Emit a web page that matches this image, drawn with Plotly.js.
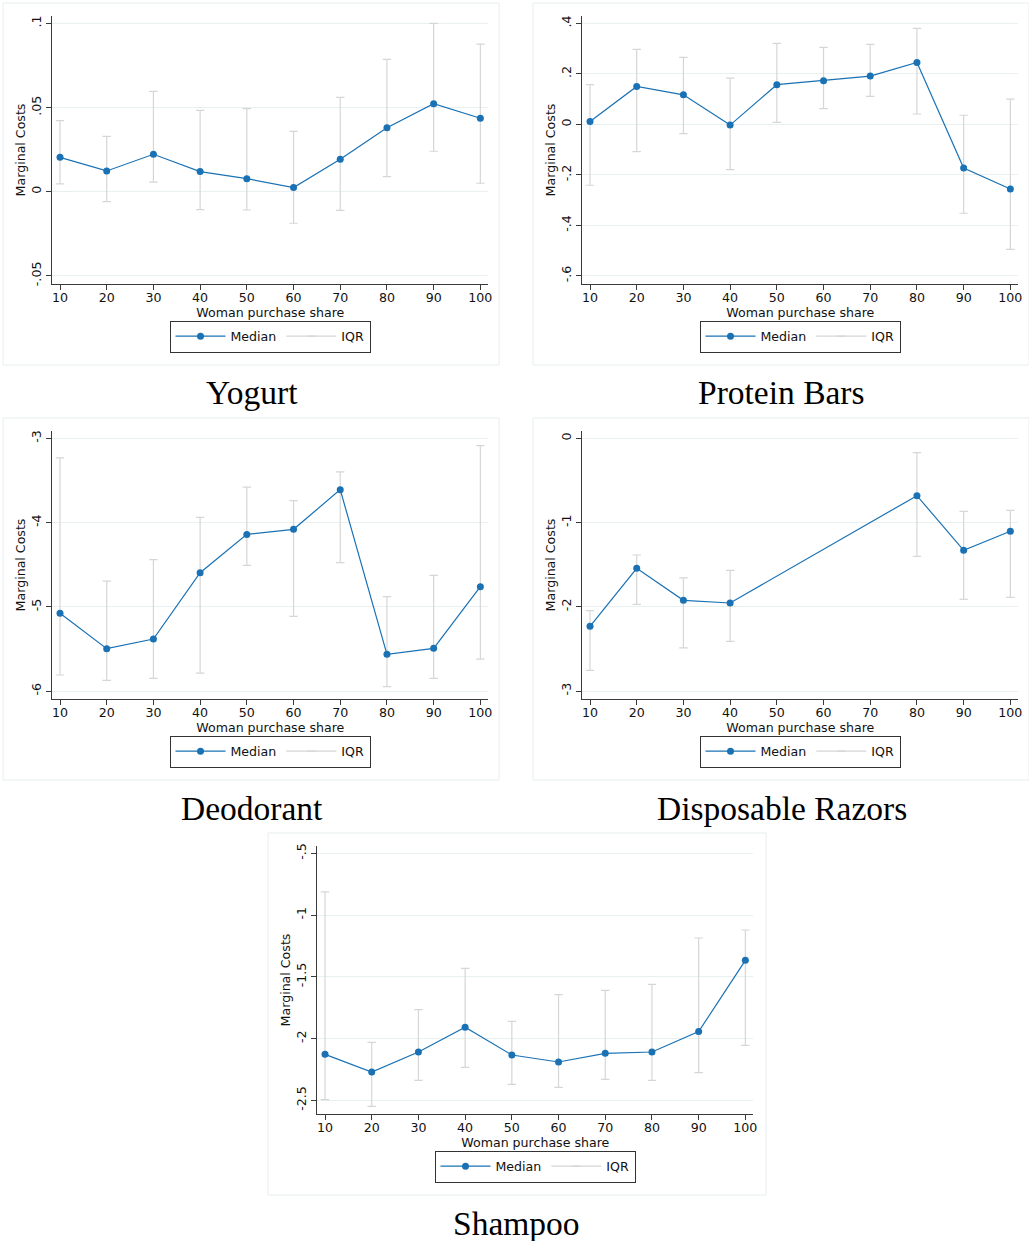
<!DOCTYPE html>
<html>
<head>
<meta charset="utf-8">
<script src="https://cdn.plot.ly/plotly-3.0.1.min.js"></script>
<style>
  html, body { margin: 0; padding: 0; background: #ffffff; }
  #chart { width: 1029px; height: 1241px; }
</style>
</head>
<body>
<div id="chart"></div>
<script>
// ---------- DATA ----------
const shareX = [10, 20, 30, 40, 50, 60, 70, 80, 90, 100];
const razorX = [10, 20, 30, 40, 80, 90, 100];

const yogurtMedian = [0.0204, 0.0123, 0.0222, 0.0119, 0.0077, 0.0024, 0.0192, 0.0380, 0.0523, 0.0436];
const yogurtQ25    = [0.0046, -0.0059, 0.0057, -0.0107, -0.0109, -0.0188, -0.0111, 0.0089, 0.0240, 0.0050];
const yogurtQ75    = [0.0422, 0.0329, 0.0596, 0.0483, 0.0493, 0.0358, 0.0560, 0.0786, 0.1000, 0.0877];

const proteinMedian = [0.011, 0.150, 0.117, -0.003, 0.157, 0.173, 0.191, 0.245, -0.173, -0.256];
const proteinQ25    = [-0.241, -0.108, -0.037, -0.179, 0.008, 0.062, 0.111, 0.041, -0.352, -0.495];
const proteinQ75    = [0.157, 0.297, 0.265, 0.183, 0.321, 0.305, 0.317, 0.380, 0.036, 0.100];

const deodorantMedian = [-5.076, -5.496, -5.381, -4.594, -4.139, -4.079, -3.608, -5.563, -5.492, -4.760];
const deodorantQ25    = [-5.808, -5.872, -5.848, -5.785, -4.507, -5.112, -4.475, -5.947, -5.848, -5.619];
const deodorantQ75    = [-3.232, -4.693, -4.439, -3.937, -3.577, -3.739, -3.398, -4.879, -4.625, -3.086];

const razorMedian = [-2.232, -1.543, -1.923, -1.955, -0.681, -1.330, -1.104];
const razorQ25    = [-2.754, -1.971, -2.489, -2.410, -1.401, -1.911, -1.888];
const razorQ75    = [-2.046, -1.385, -1.658, -1.567, -0.170, -0.867, -0.855];

const shampooMedian = [-2.127, -2.270, -2.108, -1.908, -2.132, -2.189, -2.119, -2.108, -1.943, -1.366];
const shampooQ25    = [-2.494, -2.548, -2.337, -2.232, -2.370, -2.394, -2.329, -2.337, -2.275, -2.054];
const shampooQ75    = [-0.812, -2.030, -1.765, -1.431, -1.860, -1.644, -1.609, -1.560, -1.185, -1.120];

const panelTitles = ['Yogurt', 'Protein Bars', 'Deodorant', 'Disposable Razors', 'Shampoo'];

const yogurtTicks = [-0.05, 0, 0.05, 0.1];
const yogurtTickText = ['-.05', '0', '.05', '.1'];
const proteinTicks = [-0.6, -0.4, -0.2, 0, 0.2, 0.4];
const proteinTickText = ['-.6', '-.4', '-.2', '0', '.2', '.4'];
const deodorantTicks = [-6, -5, -4, -3];
const deodorantTickText = ['-6', '-5', '-4', '-3'];
const razorTicks = [-3, -2, -1, 0];
const razorTickText = ['-3', '-2', '-1', '0'];
const shampooTicks = [-2.5, -2, -1.5, -1, -0.5];
const shampooTickText = ['-2.5', '-2', '-1.5', '-1', '-.5'];
const xTicks = [10, 20, 30, 40, 50, 60, 70, 80, 90, 100];

const xTitle = 'Woman purchase share';
const yTitle = 'Marginal Costs';
const medianName = 'Median';
const iqrName = 'IQR';

// ---------- LAYOUT CONFIG ----------
const W = 1029, H = 1241;
const px = v => v / W;
const py = v => 1 - v / H;

const panels = [
  { x: shareX, med: yogurtMedian, lo: yogurtQ25, hi: yogurtQ75, tv: yogurtTicks, tt: yogurtTickText,
    yr: [-0.0549, 0.1044], ox: 0, oy: 0 },
  { x: shareX, med: proteinMedian, lo: proteinQ25, hi: proteinQ75, tv: proteinTicks, tt: proteinTickText,
    yr: [-0.632, 0.429], ox: 530, oy: 0 },
  { x: shareX, med: deodorantMedian, lo: deodorantQ25, hi: deodorantQ75, tv: deodorantTicks, tt: deodorantTickText,
    yr: [-6.093, -2.912], ox: 0, oy: 415 },
  { x: razorX, med: razorMedian, lo: razorQ25, hi: razorQ75, tv: razorTicks, tt: razorTickText,
    yr: [-3.095, 0.087], ox: 530, oy: 415 },
  { x: shareX, med: shampooMedian, lo: shampooQ25, hi: shampooQ75, tv: shampooTicks, tt: shampooTickText,
    yr: [-2.610, -0.440], ox: 265, oy: 830 }
];

const blue = '#1a72b5';
const grey = '#d6d6d6';
const axisColor = '#3a3a3a';
const gridColor = '#e8f0f1';
const sansFont = 'DejaVu Sans, Verdana, sans-serif';
const serifFont = 'Liberation Serif, Times New Roman, serif';
const fs = 12.6;

const traces = [];
const layout = {
  width: W, height: H,
  margin: { l: 0, r: 0, t: 0, b: 0 },
  paper_bgcolor: '#ffffff',
  plot_bgcolor: '#ffffff',
  showlegend: true,
  font: { family: sansFont, size: fs, color: '#000000' },
  shapes: [],
  annotations: []
};

panels.forEach((p, i) => {
  const s = i === 0 ? '' : String(i + 1);
  const xa = 'xaxis' + s, ya = 'yaxis' + s;
  const legName = 'legend' + s;

  // IQR segments with caps (built from the data arrays)
  const segX = [], segY = [];
  p.x.forEach((xv, k) => { segX.push(xv, xv, null); segY.push(p.lo[k], p.hi[k], null); });
  traces.push({
    type: 'scatter', mode: 'lines+markers',
    x: segX, y: segY,
    xaxis: 'x' + s, yaxis: 'y' + s,
    name: iqrName, legend: legName, legendrank: 2,
    line: { color: grey, width: 1.2 },
    marker: { symbol: 'line-ew', size: 6, color: grey, line: { color: grey, width: 1.2 } },
    hoverinfo: 'skip', connectgaps: false
  });
  traces.push({
    type: 'scatter', mode: 'lines+markers',
    x: p.x, y: p.med,
    xaxis: 'x' + s, yaxis: 'y' + s,
    name: medianName, legend: legName, legendrank: 1,
    line: { color: blue, width: 1.2 },
    marker: { symbol: 'circle', size: 7, color: blue }
  });

  const left = p.ox + 52.3, right = p.ox + 488.3;
  const top = p.oy + 16, bottom = p.oy + 284;

  layout[xa] = {
    domain: [px(left), px(right)],
    anchor: 'y' + s,
    range: [8.35, 101.7],
    tickmode: 'array', tickvals: xTicks,
    ticks: 'outside', ticklen: 5, tickwidth: 1, tickcolor: axisColor,
    ticklabelstandoff: -3,
    showline: true, linecolor: axisColor, linewidth: 1.3,
    showgrid: false, zeroline: false,
    tickfont: { family: sansFont, size: fs, color: '#111' },
    title: { text: xTitle, font: { family: sansFont, size: fs, color: '#111' }, standoff: 0 },
    fixedrange: true
  };
  layout[ya] = {
    domain: [py(bottom), py(top)],
    anchor: 'x' + s,
    range: p.yr,
    tickmode: 'array', tickvals: p.tv, ticktext: p.tt,
    tickangle: -90,
    ticks: 'outside', ticklen: 5, tickwidth: 1, tickcolor: axisColor,
    showline: true, linecolor: axisColor, linewidth: 1.3,
    showgrid: true, gridcolor: gridColor, gridwidth: 1,
    zeroline: false,
    tickfont: { family: sansFont, size: fs, color: '#111' },
    title: { text: yTitle, font: { family: sansFont, size: fs, color: '#111' }, standoff: 0 },
    fixedrange: true
  };

  layout[legName] = {
    x: px(p.ox + 270), y: py(p.oy + 336.5),
    xref: 'paper', yref: 'paper',
    xanchor: 'center', yanchor: 'middle',
    orientation: 'h',
    bgcolor: '#ffffff',
    bordercolor: '#333333', borderwidth: 1,
    font: { family: sansFont, size: fs, color: '#111' },
    itemwidth: 50,
    traceorder: 'normal'
  };

  // panel (graph region) border
  const bx0 = p.ox + 3, bx1 = p.ox + (i === 4 ? 501 : 499);
  layout.shapes.push({
    type: 'rect', xref: 'paper', yref: 'paper',
    x0: px(bx0), x1: px(bx1), y0: py(p.oy + 365), y1: py(p.oy + 3),
    line: { color: '#e6eeef', width: 1 }, fillcolor: 'rgba(0,0,0,0)', layer: 'below'
  });

  // panel title below
  layout.annotations.push({
    text: panelTitles[i],
    xref: 'paper', yref: 'paper',
    x: px(p.ox + 251.5), y: py(p.oy + 393),
    xanchor: 'center', yanchor: 'middle',
    showarrow: false,
    font: { family: serifFont, size: 33.5, color: '#000000' }
  });
});

Plotly.newPlot('chart', traces, layout, { staticPlot: true, displayModeBar: false });
</script>
</body>
</html>
